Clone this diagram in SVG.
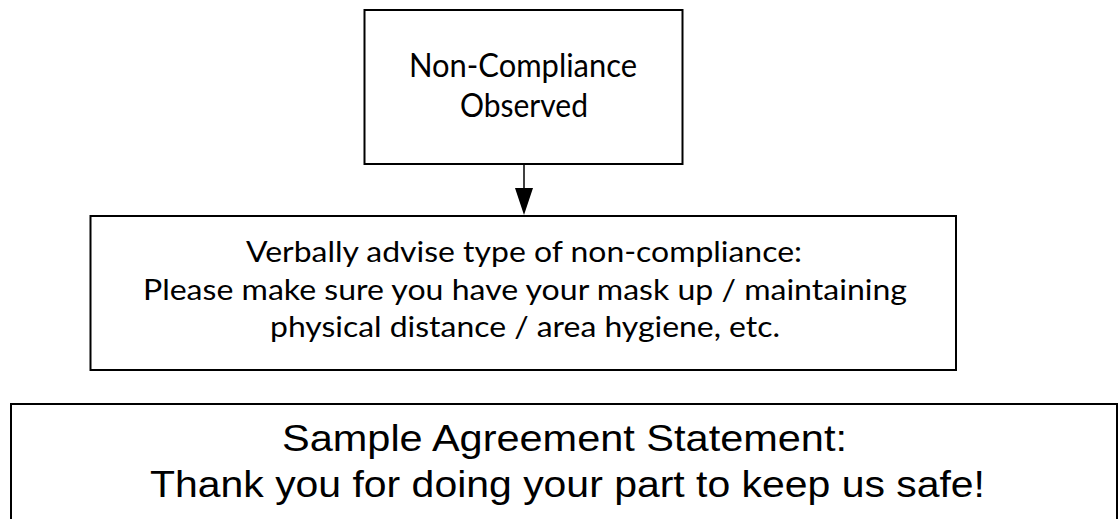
<svg xmlns="http://www.w3.org/2000/svg" width="1118" height="519" viewBox="0 0 1118 519">
<style>
.box{fill:#fff;stroke:#000;stroke-width:2}
.cal{font-family:Lato,"Open Sans","DejaVu Sans",sans-serif;fill:#000;text-anchor:middle}
.ari{font-family:"Liberation Sans",Arial,sans-serif;fill:#000;text-anchor:middle}
.conn{stroke:#000;stroke-width:1.5}
</style>
<rect width="1118" height="519" fill="#fff"/>
<g id="connectors">
<line class="conn" x1="524" y1="164" x2="524" y2="192"/>
<polygon points="515,188 533,188 524,215" fill="#000"/>
</g>
<g id="node-noncompliance">
<rect class="box" x="364.5" y="10" width="318" height="154"/>
<text class="cal" x="523" y="77" font-size="32" textLength="228" lengthAdjust="spacingAndGlyphs">Non-Compliance</text>
<text class="cal" x="524" y="117" font-size="32" textLength="128" lengthAdjust="spacingAndGlyphs">Observed</text>
</g>
<g id="node-advise">
<rect class="box" x="90.5" y="216" width="865.5" height="154"/>
<text class="cal" x="524" y="262" font-size="29" textLength="556" lengthAdjust="spacingAndGlyphs">Verbally advise type of non-compliance:</text>
<text class="cal" x="525" y="300" font-size="29" textLength="764" lengthAdjust="spacingAndGlyphs">Please make sure you have your mask up / maintaining</text>
<text class="cal" x="525" y="337" font-size="29" textLength="510" lengthAdjust="spacingAndGlyphs">physical distance / area hygiene, etc.</text>
</g>
<g id="node-agreement">
<rect class="box" x="11" y="404" width="1106" height="140"/>
<text class="ari" x="564.5" y="451" font-size="37" textLength="565" lengthAdjust="spacingAndGlyphs">Sample Agreement Statement:</text>
<text class="ari" x="567.5" y="497" font-size="37" textLength="835" lengthAdjust="spacingAndGlyphs">Thank you for doing your part to keep us safe!</text>
</g>
</svg>
